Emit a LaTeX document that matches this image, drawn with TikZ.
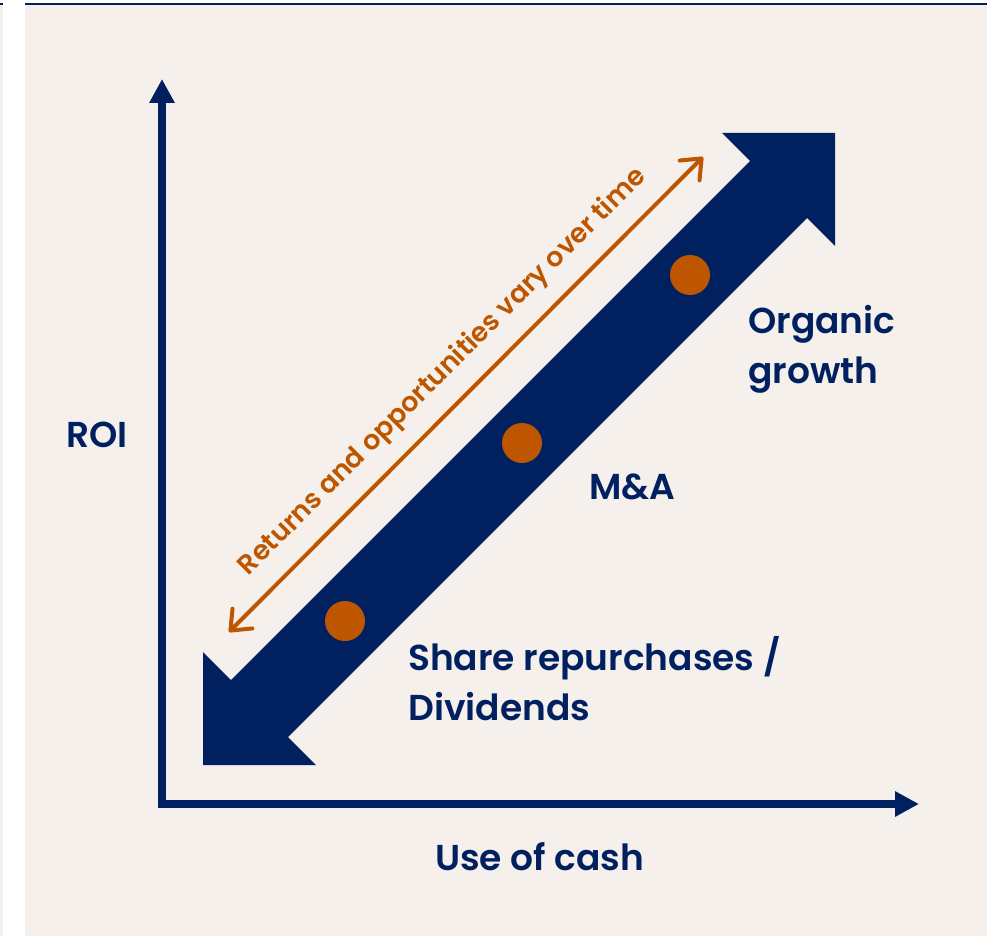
\documentclass[tikz,border=0pt]{standalone}
\usepackage{fontspec}
\setmainfont{Poppins}[BoldFont={Poppins SemiBold}]
\usepackage{tikz}
\usetikzlibrary{arrows.meta, positioning}
\definecolor{navy}{RGB}{0,32,96}
\definecolor{rust}{RGB}{190,86,0}
\definecolor{paper}{RGB}{245,240,236}
\tikzset{
  lbl/.style={text=navy, font=\fontsize{36}{50}\selectfont\bfseries, inner sep=0pt, align=left},
  dot/.style={circle, fill=rust, minimum size=40pt, inner sep=0pt},
  axis/.style={navy, line width=8pt, line join=miter, {Triangle[length=24pt,width=24pt]}-{Triangle[length=24pt,width=24pt]}},
  trend/.style={rust, line width=4pt, line cap=round, {Straight Barb[length=17pt,width=28pt,round]}-{Straight Barb[length=17pt,width=28pt,round]}},
}

\begin{document}
\begin{tikzpicture}[x=1pt, y=-1pt]
    \useasboundingbox (0,0) rectangle (987,936);
    \fill[white] (0,0) rectangle (987,936);
    \fill[paper] (25,5) rectangle (987,936);
    \fill[paper] (0,5) rectangle (3,936);
    \draw[navy, line width=2pt] (25,4) -- (987,4);
    \draw[navy, line width=2pt] (0,4) -- (3,4);

    \coordinate (o) at (162,804);
    \coordinate (ytop) at (162,79);
    \coordinate (xend) at (919,804);
    \draw[axis] (ytop) -- (o) -- (xend);

    \fill[navy] (203,652) -- (231,680) -- (750,161) -- (722,133) -- (835,133)
        -- (835,246) -- (807,218) -- (288,737) -- (316,765) -- (203,765) -- cycle;

    \node[dot] (low) at (345,621) {};
    \node[dot] (mid) at (522,443) {};
    \node[dot] (high) at (690,275) {};

    \coordinate (r1) at (229,632);
    \coordinate (r2) at (703,157);
    \draw[trend] (r1) -- (r2);
    \node[rotate=45, anchor=base, text=rust, inner sep=0pt,
        font=\fontsize{27}{32}\selectfont\bfseries] (vary) at (448,377)
        {Returns and opportunities vary over time};

    \node[lbl, anchor=base west] (org) at (748,383) {Organic\\growth};
    \node[lbl, anchor=base west] (ma) at (589,499) {M\&A};
    \node[lbl, anchor=base west] (share) at (408,720) {Share repurchases /\\Dividends};
    \node[lbl, anchor=base west] (cash) at (435,870) {Use of cash};
    \node[lbl, anchor=base west] (roi) at (66,447) {ROI};
\end{tikzpicture}
\end{document}
